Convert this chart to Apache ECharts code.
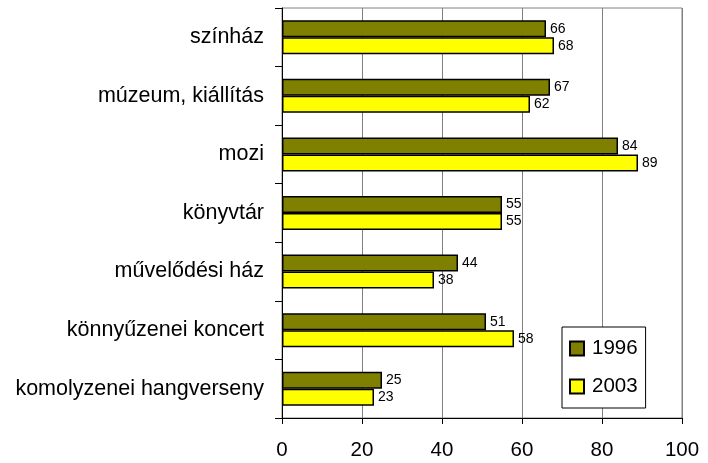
<!DOCTYPE html>
<html>
<head>
<meta charset="utf-8">
<style>
html, body { margin: 0; padding: 0; background: #fff; }
#main { width: 708px; height: 463px; }
</style>
<script src="https://cdn.jsdelivr.net/npm/echarts@6/dist/echarts.min.js"></script>
</head>
<body>
<div id="main"></div>
<script>
// kategóriák felülről lefelé
var categories = ['színház', 'múzeum, kiállítás', 'mozi', 'könyvtár', 'művelődési ház', 'könnyűzenei koncert', 'komolyzenei hangverseny'];
var values1996 = [66, 67, 84, 55, 44, 51, 25];
var values2003 = [68, 62, 89, 55, 38, 58, 23];
var xTicks = [0, 20, 40, 60, 80, 100];

var font = 'Liberation Sans, Arial, sans-serif';

var barLabel = {
  show: true,
  position: 'right',
  distance: 4,
  fontSize: 14,
  fontFamily: font,
  color: '#000'
};

var option = {
  animation: false,
  backgroundColor: '#fff',
  textStyle: { fontFamily: font },
  grid: {
    left: 282,
    top: 8,
    right: 26,
    bottom: 45,
    show: true,
    borderColor: '#808080',
    borderWidth: 1
  },
  legend: {
    orient: 'vertical',
    left: 562,
    top: 327,
    padding: [11, 8, 11, 7],
    itemGap: 17,
    itemWidth: 14,
    itemHeight: 14,
    icon: 'rect',
    borderColor: '#000',
    borderWidth: 1,
    backgroundColor: '#fff',
    textStyle: { fontSize: 20.5, color: '#000', fontFamily: font, padding: [0, 0, 0, 3] },
    data: ['1996', '2003']
  },
  xAxis: {
    type: 'value',
    min: xTicks[0],
    max: xTicks[xTicks.length - 1],
    interval: 20,
    axisLine: { show: true, lineStyle: { color: '#000', width: 1 } },
    axisTick: { show: true, length: 6, lineStyle: { color: '#000' } },
    axisLabel: { fontSize: 20.5, color: '#000', margin: 22, fontFamily: font },
    splitLine: { show: true, lineStyle: { color: '#808080', width: 1 } }
  },
  yAxis: {
    type: 'category',
    inverse: true,
    data: categories,
    axisLine: { show: true, lineStyle: { color: '#000', width: 1 } },
    axisTick: { show: true, length: 7, alignWithLabel: false, lineStyle: { color: '#000' } },
    axisLabel: { fontSize: 21.5, color: '#000', margin: 18, fontFamily: font },
    splitLine: { show: false }
  },
  series: [{
    name: '1996',
    type: 'bar',
    data: values1996,
    barWidth: 17,
    barGap: '0%',
    itemStyle: { color: '#808000', borderColor: '#000', borderWidth: 1.5 },
    label: barLabel
  }, {
    name: '2003',
    type: 'bar',
    data: values2003,
    barWidth: 17,
    barGap: '0%',
    itemStyle: { color: '#ffff00', borderColor: '#000', borderWidth: 1.5 },
    label: barLabel
  }]
};

var myChart = echarts.init(document.getElementById('main'));
myChart.setOption(option);
</script>
</body>
</html>
